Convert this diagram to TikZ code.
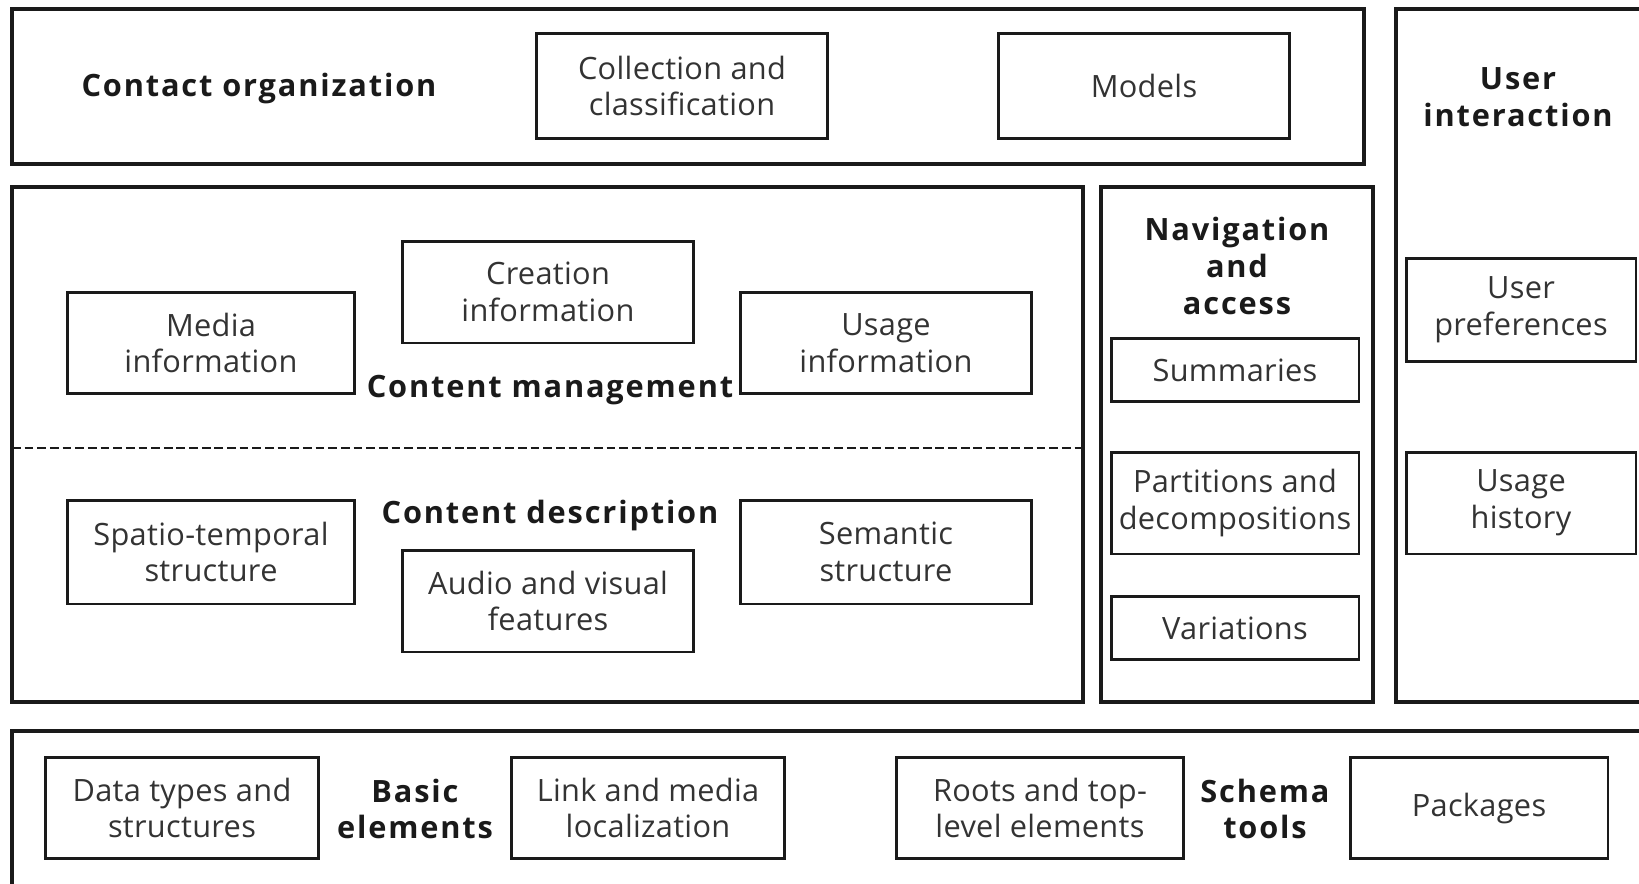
\documentclass[tikz,border=0pt]{standalone}
\usepackage{fontspec}
\setmainfont[LetterSpace=1]{Open Sans}
\newfontfamily\headfont[LetterSpace=6]{Open Sans}
\usepackage{xcolor}
\usetikzlibrary{positioning}
\definecolor{ink}{HTML}{1A1A1A}
\definecolor{soft}{HTML}{333333}

\begin{document}
\begin{tikzpicture}[
    x=0.02cm, y=-0.02cm,
    font=\fontsize{17.5}{21}\selectfont,
    panel/.style={draw=ink, line width=2.3pt},
    item/.style={draw=ink, line width=1.7pt, align=center, text=soft,
                 inner sep=0pt},
    head/.style={align=center, text=ink, font=\fontsize{17.5}{21}\selectfont\headfont\bfseries},
    split/.style={draw=ink, line width=1.2pt, dash pattern=on 5pt off 2.2pt}
]

\useasboundingbox (0,0) rectangle (1639,883);
\clip (0,0) rectangle (1639,883);

% outer panels
\draw[panel] (12,9) rectangle (1364,164);
\draw[panel] (12,187) rectangle (1083,702);
\draw[panel] (1101,187) rectangle (1373,702);
\draw[panel] (1396,9) rectangle (1700,702);
\draw[panel] (12,731) rectangle (1700,950);
\draw[split] (12,448) -- (1083,448);

% contact organization
\node[head] (contactHead) at (259,89) {Contact organization};
\node[item, minimum width=5.84cm, minimum height=2.1cm] (collection) at (682,86) {Collection and\\classification};
\node[item, minimum width=5.84cm, minimum height=2.1cm] (models) at (1144,86) {Models};

% content management / description
\node[item, minimum width=5.76cm, minimum height=2.02cm] (media) at (211,343) {Media\\information};
\node[item, minimum width=5.82cm, minimum height=2.04cm] (creation) at (548,292) {Creation\\information};
\node[item, minimum width=5.84cm, minimum height=2.02cm] (usageInfo) at (886,343) {Usage\\information};
\node[head] (managementHead) at (550,390) {Content management};

\node[head] (descriptionHead) at (550,516) {Content description};
\node[item, minimum width=5.76cm, minimum height=2.08cm] (spatio) at (211,552) {Spatio-temporal\\structure};
\node[item, minimum width=5.82cm, minimum height=2.04cm] (audio) at (548,601) {Audio and visual\\features};
\node[item, minimum width=5.84cm, minimum height=2.08cm] (semantic) at (886,552) {Semantic\\structure};

% navigation and access
\node[head] (navigationHead) at (1237,266) {Navigation\\and\\access};
\node[item, minimum width=4.96cm, minimum height=1.26cm] (summaries) at (1235,370) {Summaries};
\node[item, minimum width=4.96cm, minimum height=2.04cm] (partitions) at (1235,503) {Partitions and\\decompositions};
\node[item, minimum width=4.96cm, minimum height=1.26cm] (variations) at (1235,628) {Variations};

% user interaction
\node[head] (userHead) at (1518,97) {User\\interaction};
\node[item, minimum width=4.6cm, minimum height=2.06cm] (preferences) at (1521,310) {User\\preferences};
\node[item, minimum width=4.6cm, minimum height=2.04cm] (history) at (1521,503) {Usage\\history};

% basic elements / schema tools
\node[item, minimum width=5.48cm, minimum height=2.02cm] (dataTypes) at (182,808) {Data types and\\structures};
\node[head] (basicHead) at (415,809) {Basic\\elements};
\node[item, minimum width=5.46cm, minimum height=2.02cm] (link) at (648,808) {Link and media\\localization};
\node[item, minimum width=5.74cm, minimum height=2.02cm] (roots) at (1040,808) {Roots and top-\\level elements};
\node[head] (schemaHead) at (1265,809) {Schema\\tools};
\node[item, minimum width=5.16cm, minimum height=2.02cm] (packages) at (1479,808) {Packages};

\end{tikzpicture}
\end{document}
